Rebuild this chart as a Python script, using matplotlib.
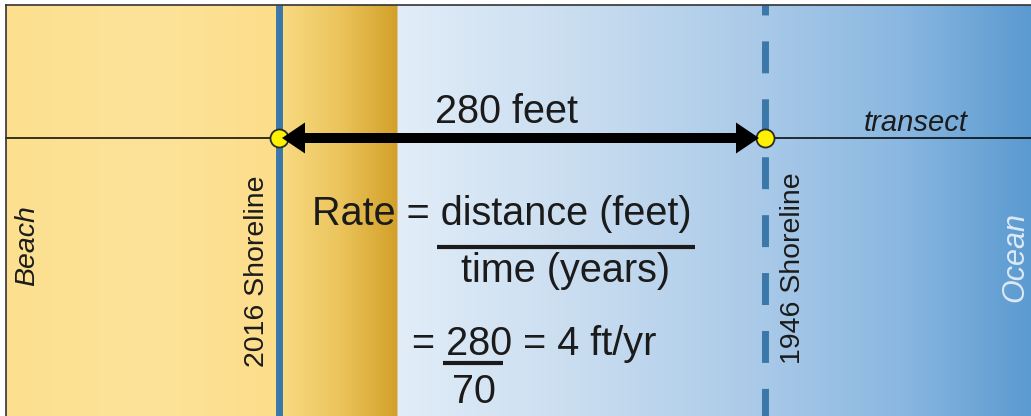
import numpy as np
import matplotlib
matplotlib.use("Agg")
import matplotlib.pyplot as plt
from matplotlib.colors import to_rgb

plt.rcParams['font.family'] = ['Liberation Sans', 'DejaVu Sans']

# shorelines along the transect, feet measured seaward from the 2016 line
shoreline_years = [2016, 1946]
shoreline_ft = [0, 280]
shoreline_labels = ['2016 Shoreline', '1946 Shoreline']
zone_labels = ['Beach', 'Ocean']

distance_ft = shoreline_ft[1] - shoreline_ft[0]
elapsed_yr = shoreline_years[0] - shoreline_years[1]
rate_ft_yr = distance_ft / elapsed_yr

# page layout (pixels)
W, H = 1031, 416
ORIGIN_PX = 279
PX_PER_FT = (765 - 279) / 280
TRANSECT_Y = 138
INK = '#1b1b1b'
LINE_BLUE = '#3b78a9'
BIG = 28.5
SMALL = 20.5


def px_to_ft(px):
    return (px - ORIGIN_PX) / PX_PER_FT


# background colour ramp, sampled per pixel column
stops_px = [6, 150, 277, 283, 340, 397, 398, 600, 765, 900, 1031]
stops_col = ['#fce08f', '#fde39a', '#fcdd8a', '#f8da82', '#ebc45c', '#d3a12a',
             '#e2edf8', '#c6dbef', '#a9c9e8', '#8ab8e1', '#5b9ad0']
cols = np.arange(6, W) + 0.5
rgb = np.array([to_rgb(c) for c in stops_col])
ramp = np.stack([np.interp(cols, stops_px, rgb[:, k]) for k in range(3)], axis=-1)
ramp = ramp[np.newaxis, :, :]

fig = plt.figure(figsize=(W / 100, H / 100), dpi=100)
ax = fig.add_axes([0, 0, 1, 1])
ax.set_xlim(px_to_ft(0), px_to_ft(W))
ax.set_ylim(H, 0)
ax.axis('off')

ax.imshow(ramp, extent=(px_to_ft(6), px_to_ft(W), H, 5), aspect='auto',
          interpolation='bilinear', zorder=0)

# shorelines
ax.plot([shoreline_ft[0]] * 2, [5, H], color=LINE_BLUE, lw=5, zorder=2,
        solid_capstyle='butt')
ax.plot([shoreline_ft[1]] * 2, [5, H], color=LINE_BLUE, lw=5, zorder=2,
        linestyle=(3.17, (4.6, 3.74)), dash_capstyle='butt')

# transect
ax.plot([px_to_ft(6), px_to_ft(W)], [TRANSECT_Y] * 2, color='black', lw=1.1,
        zorder=3)
ax.plot(shoreline_ft, [TRANSECT_Y] * 2, 'o', ms=13, mfc='#fff200',
        mec='#2a2a2a', mew=1.3, zorder=4, linestyle='none')

# double-headed distance arrow: two heads drawn from the midpoint outwards
mid_ft = (shoreline_ft[0] + shoreline_ft[1]) / 2
tips_ft = [shoreline_ft[0] + 3 / PX_PER_FT, shoreline_ft[1] - 6 / PX_PER_FT]
for tip in tips_ft:
    ax.arrow(mid_ft, TRANSECT_Y, tip - mid_ft, 0, width=10, head_width=31,
             head_length=23 / PX_PER_FT, length_includes_head=True,
             color='black', lw=0, zorder=5)

# text overlay in pixel coordinates
tax = fig.add_axes([0, 0, 1, 1], facecolor='none')
tax.set_xlim(0, W)
tax.set_ylim(H, 0)
tax.axis('off')

tax.plot([5.5, 5.5], [H, 4.5], color='#333333', lw=1.2)
tax.plot([5.5, W], [4.5, 4.5], color='#333333', lw=1.2)

tax.text(435, 123, f'{distance_ft} feet', fontsize=BIG, color=INK,
         ha='left', va='baseline')
tax.text(916, 131, 'transect', fontsize=21, style='italic', color=INK,
         ha='center', va='baseline')

tax.text(27, 246, zone_labels[0], fontsize=SMALL, style='italic', color=INK,
         rotation=90, ha='center', va='center')
tax.text(1015, 257, zone_labels[1], fontsize=22, style='italic', color='#dce9f6',
         rotation=90, ha='center', va='center')
tax.text(257, 271, shoreline_labels[0], fontsize=SMALL, color=INK,
         rotation=90, ha='center', va='center')
tax.text(793, 268, shoreline_labels[1], fontsize=SMALL, color=INK,
         rotation=90, ha='center', va='center')

# formula
tax.text(312, 225, 'Rate = distance (feet)', fontsize=BIG, color=INK,
         ha='left', va='baseline')
tax.plot([437, 695], [247, 247], color=INK, lw=3, solid_capstyle='butt')
tax.text(566, 282, 'time (years)', fontsize=BIG, color=INK,
         ha='center', va='baseline')
tax.text(412, 355, f'= {distance_ft} = {rate_ft_yr:g} ft/yr', fontsize=BIG,
         color=INK, ha='left', va='baseline')
tax.plot([443, 503], [363, 363], color=INK, lw=3, solid_capstyle='butt')
tax.text(474, 403, f'{elapsed_yr}', fontsize=BIG, color=INK,
         ha='center', va='baseline')

fig.savefig('out.png', dpi=100)
